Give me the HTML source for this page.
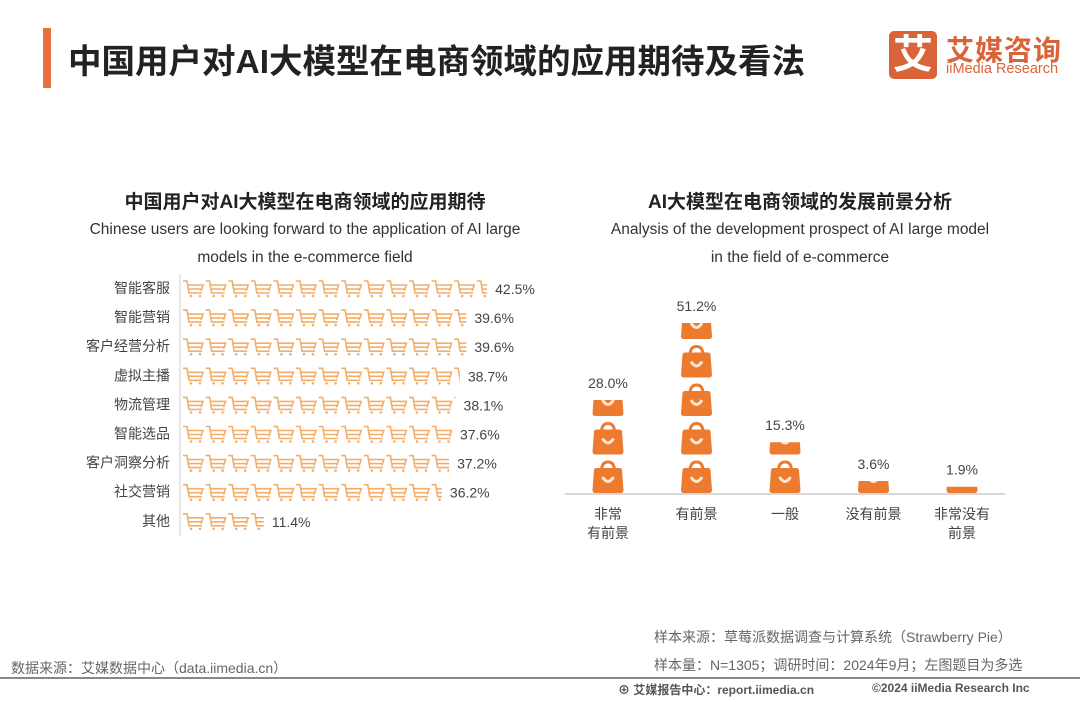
<!DOCTYPE html>
<html><head><meta charset="utf-8"><style>
body{margin:0;background:#fff;}
#root{position:relative;width:1080px;height:702px;overflow:hidden;background:#fff;font-family:"Liberation Sans","Noto Sans CJK SC",sans-serif;color:#333;}
.abs{position:absolute;white-space:nowrap;}
</style></head><body>
<div id="root">
<div class="abs" style="left:43px;top:28px;width:8px;height:60px;background:#e8703a;"></div>
<div class="abs" style="left:68px;top:34px;font-size:33.5px;font-weight:bold;color:#222;">中国用户对AI大模型在电商领域的应用期待及看法</div>
<div class="abs" style="left:889px;top:31px;width:48px;height:48px;background:#d9643a;border-radius:5px;color:#fff;font-size:40px;font-weight:bold;text-align:center;line-height:48px;">艾</div>
<div class="abs" style="left:946px;top:29px;font-size:28px;font-weight:bold;color:#d9643a;letter-spacing:1px;">艾媒咨询</div>
<div class="abs" style="left:946px;top:61px;font-size:14.5px;color:#d9643a;">iiMedia Research</div>

<div class="abs" style="left:60px;width:490px;text-align:center;top:187px;font-size:19px;font-weight:bold;color:#222;">中国用户对AI大模型在电商领域的应用期待</div>
<div class="abs" style="left:40px;width:530px;text-align:center;top:216px;font-size:15.5px;line-height:28px;color:#333;">Chinese users are looking forward to the application of AI large<br>models in the e-commerce field</div>
<div class="abs" style="left:550px;width:500px;text-align:center;top:187px;font-size:19px;font-weight:bold;color:#222;">AI大模型在电商领域的发展前景分析</div>
<div class="abs" style="left:540px;width:520px;text-align:center;top:216px;font-size:15.5px;line-height:28px;color:#333;">Analysis of the development prospect of AI large model<br>in the field of e-commerce</div>

<svg id="chart" class="abs" style="left:0;top:0" width="1080" height="702">
<defs>
<g id="cart"><path d="M1 4 L5 4 L7 16 L20 16 M6 8 L21 8 L19 14 M7 12 L20 12" fill="none" stroke="#f2ae6a" stroke-width="1.6"/><circle cx="9" cy="19" r="1.3" fill="#f2ae6a"/><circle cx="18" cy="19" r="1.3" fill="#f2ae6a"/></g>
<g id="bag"><path d="M9 12 Q9 3 15.5 3 Q22 3 22 12" fill="none" stroke="#ec7b30" stroke-width="3"/><path d="M4 9 L27 9 Q29 9 29.5 11 L31 31 Q31 34 28 34 L3 34 Q0 34 0 31 L1.5 11 Q2 9 4 9 Z" fill="#ec7b30"/><path d="M10 18 Q15.5 27 21 18" fill="none" stroke="#fbe6d2" stroke-width="3"/></g>
</defs>
</svg>

<div class="abs" style="left:654px;top:627px;font-size:14px;color:#666;">样本来源：草莓派数据调查与计算系统（Strawberry Pie）</div>
<div class="abs" style="left:654px;top:655px;font-size:14px;color:#666;">样本量：N=1305；调研时间：2024年9月；左图题目为多选</div>
<div class="abs" style="left:11px;top:658px;font-size:14px;color:#666;">数据来源：艾媒数据中心（data.iimedia.cn）</div>
<div class="abs" style="left:0;top:677px;width:1080px;height:2px;background:#888;"></div>
<div class="abs" style="left:618px;top:681px;font-size:12px;font-weight:bold;color:#555;">⊕ 艾媒报告中心：report.iimedia.cn</div>
<div class="abs" style="left:872px;top:681px;font-size:12px;font-weight:bold;color:#555;">©2024 iiMedia Research Inc</div>
</div>
<script>
const leftCats=["智能客服","智能营销","客户经营分析","虚拟主播","物流管理","智能选品","客户洞察分析","社交营销","其他"];
const leftVals=[42.5,39.6,39.6,38.7,38.1,37.6,37.2,36.2,11.4];
const rightCats=[["非常","有前景"],["有前景"],["一般"],["没有前景"],["非常没有","前景"]];
const rightVals=[28.0,51.2,15.3,3.6,1.9];
const NS="http://www.w3.org/2000/svg";
const svg=document.getElementById('chart');
function mk(t,a){const e=document.createElementNS(NS,t);for(const k in a)e.setAttribute(k,a[k]);return e;}
const x0=182,pxPer=7.18,rowY0=288,rowStep=29.1;
function lx(v){return x0+v*pxPer;}
function ly(i){return rowY0+i*rowStep;}
const ax=mk('line',{x1:180,y1:274,x2:180,y2:536,stroke:'#ccc','stroke-width':1});


svg.appendChild(ax);
leftCats.forEach((c,i)=>{
  const y=ly(i);
  const t=mk('text',{x:170,y:y+5,'text-anchor':'end','font-size':14,fill:'#444'});
  t.textContent=c;
  
  
  svg.appendChild(t);
  const cp=mk('clipPath',{id:'cl'+i});
  cp.appendChild(mk('rect',{x:x0,y:y-14,width:lx(leftVals[i])-x0,height:28}));
  svg.appendChild(cp);
  const g=mk('g',{'clip-path':'url(#cl'+i+')'});
  
  
  for(let k=0;k*22.6<lx(leftVals[i])-x0;k++){g.appendChild(mk('use',{href:'#cart',x:x0+k*22.6,y:y-11}));}
  svg.appendChild(g);
  const v=mk('text',{x:lx(leftVals[i])+8,y:y+6,'font-size':14,fill:'#444'});
  v.textContent=leftVals[i].toFixed(1)+'%';
  
  
  svg.appendChild(v);
});
const base=493,yPer=3.32,colX0=608,colStep=88.5,bagPitch=38.5;
function rx(i){return colX0+i*colStep;}
function ry(v){return base-v*yPer;}
const bl=mk('line',{x1:565,y1:494,x2:1005,y2:494,stroke:'#ccc','stroke-width':1.5});


svg.appendChild(bl);
rightVals.forEach((val,i)=>{
  const cx=rx(i),top=ry(val);
  const cp=mk('clipPath',{id:'cr'+i});
  cp.appendChild(mk('rect',{x:cx-20,y:top,width:40,height:base-top}));
  svg.appendChild(cp);
  const g=mk('g',{'clip-path':'url(#cr'+i+')'});
  
  
  for(let k=0;base-k*bagPitch>top;k++){g.appendChild(mk('use',{href:'#bag',x:cx-15.5,y:base-34-k*bagPitch}));}
  svg.appendChild(g);
  const v=mk('text',{x:cx,y:top-12,'text-anchor':'middle','font-size':14,fill:'#444'});
  v.textContent=val.toFixed(1)+'%';
  
  
  svg.appendChild(v);
  rightCats[i].forEach((ln,j)=>{
    const t=mk('text',{x:cx,y:519+j*19,'text-anchor':'middle','font-size':14,fill:'#444'});
    t.textContent=ln;
    
    
    svg.appendChild(t);
  });
});
</script>
</body></html>
